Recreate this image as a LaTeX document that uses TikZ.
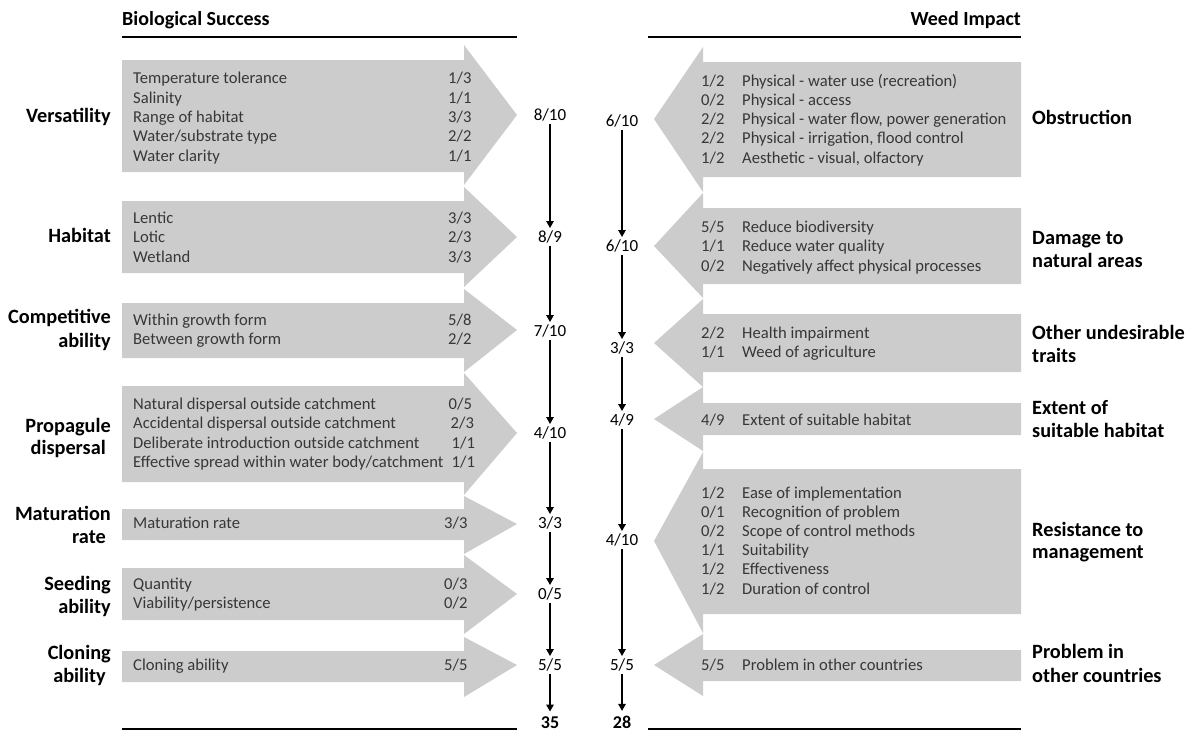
\documentclass[tikz,border=0pt]{standalone}
\usepackage{fontspec}
\setmainfont{Carlito}
\usetikzlibrary{arrows.meta}
\definecolor{boxgrey}{RGB}{204,204,204}
\definecolor{itemtext}{RGB}{55,55,55}
\tikzset{
  item/.style={font=\fontsize{16.6}{19}\selectfont, text=itemtext, inner sep=0pt, anchor=base west},
  labl/.style={font=\bfseries\fontsize{20.3}{23}\selectfont, inner sep=0pt, anchor=base east},
  labr/.style={font=\bfseries\fontsize{20.3}{23}\selectfont, inner sep=0pt, anchor=base west},
  score/.style={font=\fontsize{17}{20}\selectfont, inner sep=2.5pt, anchor=base},
  total/.style={font=\bfseries\fontsize{18}{20}\selectfont, inner sep=1pt, anchor=base},
  flow/.style={-{Triangle[length=7pt,width=7.5pt]}, line width=1.4pt},
  totalflow/.style={flow, shorten >=4pt},
  rulel/.style={line width=1.8pt},
  header/.style={font=\bfseries\fontsize{20}{22}\selectfont, inner sep=0pt},
  greyarrow/.style={fill=boxgrey},
}
\newcommand\larrow[5]{\fill[greyarrow] (122,#1) -- (464,#1) -- (464,#3) -- (517,#5) -- (464,#4) -- (464,#2) -- (122,#2) -- cycle;}
\newcommand\rarrow[5]{\fill[greyarrow] (1021,#1) -- (703,#1) -- (703,#3) -- (654,#5) -- (703,#4) -- (703,#2) -- (1021,#2) -- cycle;}
\begin{document}
\begin{tikzpicture}[x=1pt,y=-1pt]
\useasboundingbox (0,0) rectangle (1193,731);
% headers
\node[header, anchor=base west] (hl) at (122,25) {Biological Success};
\node[header, anchor=base east] (hr) at (1021,25) {Weed Impact};
\coordinate (tl1) at (122,37); \coordinate (tl2) at (517,37);
\coordinate (tr1) at (648,37); \coordinate (tr2) at (1021,37);
\coordinate (bl1) at (122,729); \coordinate (bl2) at (517,729);
\coordinate (br1) at (648,729); \coordinate (br2) at (1021,729);
\draw[rulel] (tl1) -- (tl2);
\draw[rulel] (tr1) -- (tr2);
\draw[rulel] (bl1) -- (bl2);
\draw[rulel] (br1) -- (br2);
% left arrows
\larrow{60}{172}{45}{185}{115}
\larrow{201}{273}{187}{287}{237}
\larrow{303}{358}{289}{372}{330}
\larrow{386}{482}{373}{495}{433}
\larrow{509}{540}{496}{554}{524}
\larrow{568}{620}{555}{634}{594}
\larrow{651}{682}{637}{697}{665}
% right arrows
\rarrow{62}{177}{47}{192}{119}
\rarrow{208}{284}{193}{298}{246}
\rarrow{314}{372}{299}{387}{343}
\rarrow{403}{435}{387}{451}{419}
\rarrow{469}{614}{452}{633}{541}
\rarrow{650}{681}{634}{696}{665}
% left items
\node[item] (a1) at (133,83.3) {Temperature tolerance};
\node[item] (a1v) at (448,83.3) {1/3};
\node[item] (a2) at (133,103.3) {Salinity};
\node[item] (a2v) at (448,103.3) {1/1};
\node[item] (a3) at (133,122.7) {Range of habitat};
\node[item] (a3v) at (448,122.7) {3/3};
\node[item] (a4) at (133,141.7) {Water/substrate type};
\node[item] (a4v) at (448,141.7) {2/2};
\node[item] (a5) at (133,161) {Water clarity};
\node[item] (a5v) at (448,161) {1/1};
\node[item] (b1) at (133,223) {Lentic};
\node[item] (b1v) at (448,223) {3/3};
\node[item] (b2) at (133,242) {Lotic};
\node[item] (b2v) at (448,242) {2/3};
\node[item] (b3) at (133,262) {Wetland};
\node[item] (b3v) at (448,262) {3/3};
\node[item] (c1) at (133,325) {Within growth form};
\node[item] (c1v) at (448,325) {5/8};
\node[item] (c2) at (133,344) {Between growth form};
\node[item] (c2v) at (448,344) {2/2};
\node[item] (d1) at (133,409) {Natural dispersal outside catchment};
\node[item] (d1v) at (448.5,409) {0/5};
\node[item] (d2) at (133,428) {Accidental dispersal outside catchment};
\node[item] (d2v) at (450.5,428) {2/3};
\node[item] (d3) at (133,448) {Deliberate introduction outside catchment};
\node[item] (d3v) at (451.5,448) {1/1};
\node[item] (d4) at (133,467) {Effective spread within water body/catchment};
\node[item] (d4v) at (451.5,467) {1/1};
\node[item] (e1) at (133,528) {Maturation rate};
\node[item] (e1v) at (444,528) {3/3};
\node[item] (f1) at (133,589) {Quantity};
\node[item] (f1v) at (444,589) {0/3};
\node[item] (f2) at (133,608) {Viability/persistence};
\node[item] (f2v) at (444,608) {0/2};
\node[item] (g1) at (133,670) {Cloning ability};
\node[item] (g1v) at (444,670) {5/5};
% right items
\node[item] (p1v) at (701,86) {1/2};
\node[item] (p1) at (742,86) {Physical - water use (recreation)};
\node[item] (p2v) at (701,105) {0/2};
\node[item] (p2) at (742,105) {Physical - access};
\node[item] (p3v) at (701,124) {2/2};
\node[item] (p3) at (742,124) {Physical - water flow, power generation};
\node[item] (p4v) at (701,143) {2/2};
\node[item] (p4) at (742,143) {Physical - irrigation, flood control};
\node[item] (p5v) at (701,163) {1/2};
\node[item] (p5) at (742,163) {Aesthetic - visual, olfactory};
\node[item] (q1v) at (701,232) {5/5};
\node[item] (q1) at (742,232) {Reduce biodiversity};
\node[item] (q2v) at (701,251) {1/1};
\node[item] (q2) at (742,251) {Reduce water quality};
\node[item] (q3v) at (701,271) {0/2};
\node[item] (q3) at (742,271) {Negatively affect physical processes};
\node[item] (r1v) at (701,338) {2/2};
\node[item] (r1) at (742,338) {Health impairment};
\node[item] (r2v) at (701,357) {1/1};
\node[item] (r2) at (742,357) {Weed of agriculture};
\node[item] (u1v) at (701,425) {4/9};
\node[item] (u1) at (742,425) {Extent of suitable habitat};
\node[item] (w1v) at (701,498) {1/2};
\node[item] (w1) at (742,498) {Ease of implementation};
\node[item] (w2v) at (701,517) {0/1};
\node[item] (w2) at (742,517) {Recognition of problem};
\node[item] (w3v) at (701,536) {0/2};
\node[item] (w3) at (742,536) {Scope of control methods};
\node[item] (w4v) at (701,555) {1/1};
\node[item] (w4) at (742,555) {Suitability};
\node[item] (w5v) at (701,574) {1/2};
\node[item] (w5) at (742,574) {Effectiveness};
\node[item] (w6v) at (701,594) {1/2};
\node[item] (w6) at (742,594) {Duration of control};
\node[item] (z1v) at (701,670) {5/5};
\node[item] (z1) at (742,670) {Problem in other countries};
% left labels
\node[labl] (la1) at (111,122.5) {Versatility};
\node[labl] (la2) at (111,242.5) {Habitat};
\node[labl] (la3a) at (111,323.5) {Competitive};
\node[labl] (la3b) at (111,347.5) {ability};
\node[labl] (la4a) at (111,432.5) {Propagule};
\node[labl] (la4b) at (106,454.5) {dispersal};
\node[labl] (la5a) at (111,520.5) {Maturation};
\node[labl] (la5b) at (106,543.5) {rate};
\node[labl] (la6a) at (111,590.5) {Seeding};
\node[labl] (la6b) at (111,613.5) {ability};
\node[labl] (la7a) at (111,659.5) {Cloning};
\node[labl] (la7b) at (106,682.5) {ability};
% right labels
\node[labr] (ra1) at (1032,124.5) {Obstruction};
\node[labr] (ra2a) at (1032,244.5) {Damage to};
\node[labr] (ra2b) at (1032,267.5) {natural areas};
\node[labr] (ra3a) at (1032,339.5) {Other undesirable};
\node[labr] (ra3b) at (1032,362.5) {traits};
\node[labr] (ra4a) at (1032,414.5) {Extent of};
\node[labr] (ra4b) at (1032,437.5) {suitable habitat};
\node[labr] (ra5a) at (1032,536.5) {Resistance to};
\node[labr] (ra5b) at (1032,558.5) {management};
\node[labr] (ra6a) at (1032,658.5) {Problem in};
\node[labr] (ra6b) at (1032,682.5) {other countries};
% scores
\node[score] (sL1) at (550,120.5) {8/10};
\node[score] (sL2) at (550,242.5) {8/9};
\node[score] (sL3) at (550,336.5) {7/10};
\node[score] (sL4) at (550,438.5) {4/10};
\node[score] (sL5) at (550,528.5) {3/3};
\node[score] (sL6) at (550,599.5) {0/5};
\node[score] (sL7) at (550,670.5) {5/5};
\node[total] (tL) at (550,728.5) {35};
\node[score] (sR1) at (622,126.5) {6/10};
\node[score] (sR2) at (622,251.5) {6/10};
\node[score] (sR3) at (622,353.5) {3/3};
\node[score] (sR4) at (622,425.5) {4/9};
\node[score] (sR5) at (622,545.5) {4/10};
\node[score] (sR6) at (622,670.5) {5/5};
\node[total] (tR) at (622,728.5) {28};
% connectors
\draw[flow] (sL1) -- (sL2);
\draw[flow] (sL2) -- (sL3);
\draw[flow] (sL3) -- (sL4);
\draw[flow] (sL4) -- (sL5);
\draw[flow] (sL5) -- (sL6);
\draw[flow] (sL6) -- (sL7);
\draw[totalflow] (sL7) -- (tL);
\draw[flow] (sR1) -- (sR2);
\draw[flow] (sR2) -- (sR3);
\draw[flow] (sR3) -- (sR4);
\draw[flow] (sR4) -- (sR5);
\draw[flow] (sR5) -- (sR6);
\draw[totalflow] (sR6) -- (tR);
\end{tikzpicture}
\end{document}
